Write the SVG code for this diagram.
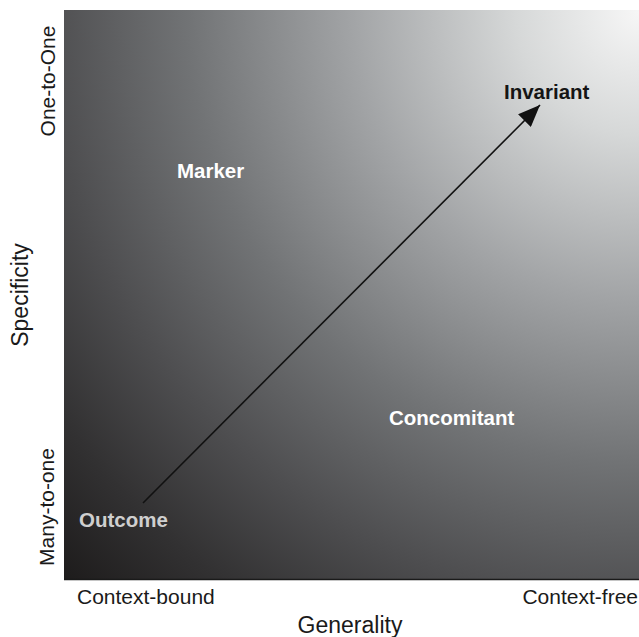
<svg xmlns="http://www.w3.org/2000/svg" width="639" height="637" viewBox="0 0 639 637">
  <style>
    .axis { font-family: "Liberation Sans", Arial, sans-serif; font-size: 21px; fill: #1a1a1a; }
    .title { font-family: "Liberation Sans", Arial, sans-serif; font-size: 23px; fill: #1a1a1a; }
    .node { font-family: "Liberation Sans", Arial, sans-serif; font-size: 20.5px; font-weight: bold; }
  </style>
  <defs>
    <radialGradient id="field" gradientUnits="userSpaceOnUse" cx="639" cy="12" r="820">
      <stop offset="0" stop-color="#f6f6f6"/>
      <stop offset="0.15" stop-color="#d6d8d8"/>
      <stop offset="0.35" stop-color="#a2a4a6"/>
      <stop offset="0.55" stop-color="#717375"/>
      <stop offset="0.72" stop-color="#4e4e50"/>
      <stop offset="0.86" stop-color="#323132"/>
      <stop offset="1" stop-color="#1b1919"/>
    </radialGradient>
    <marker id="head" markerUnits="userSpaceOnUse" markerWidth="24" markerHeight="18" refX="22" refY="9" orient="auto">
      <path d="M0,0 L22,9 L0,18 z" fill="#111"/>
    </marker>
  </defs>

  <!-- plotting field -->
  <g id="field-area">
    <rect x="64" y="10" width="575" height="570" fill="url(#field)"/>
    <line x1="64" y1="579.5" x2="639" y2="579.5" stroke="#1a1a1a" stroke-width="1.5"/>
  </g>

  <!-- connectors -->
  <g id="connectors">
    <line x1="143" y1="503" x2="540" y2="105" stroke="#111" stroke-width="1.6" marker-end="url(#head)"/>
  </g>

  <!-- nodes -->
  <g id="node-invariant"><text class="node" x="504" y="99" fill="#151515">Invariant</text></g>
  <g id="node-marker"><text class="node" x="177" y="178" fill="#ffffff">Marker</text></g>
  <g id="node-concomitant"><text class="node" x="389" y="425" fill="#ffffff">Concomitant</text></g>
  <g id="node-outcome"><text class="node" x="79" y="527" fill="#cfcfcf">Outcome</text></g>

  <!-- axes -->
  <g id="axis-x">
    <text class="axis" x="77" y="604">Context-bound</text>
    <text class="axis" x="638" y="604" text-anchor="end">Context-free</text>
    <text class="title" x="350" y="633" text-anchor="middle">Generality</text>
  </g>
  <g id="axis-y">
    <text class="axis" transform="translate(55,81) rotate(-90)" text-anchor="middle">One-to-One</text>
    <text class="axis" transform="translate(54,507) rotate(-90)" text-anchor="middle">Many-to-one</text>
    <text class="title" transform="translate(28,295) rotate(-90)" text-anchor="middle">Specificity</text>
  </g>
</svg>
